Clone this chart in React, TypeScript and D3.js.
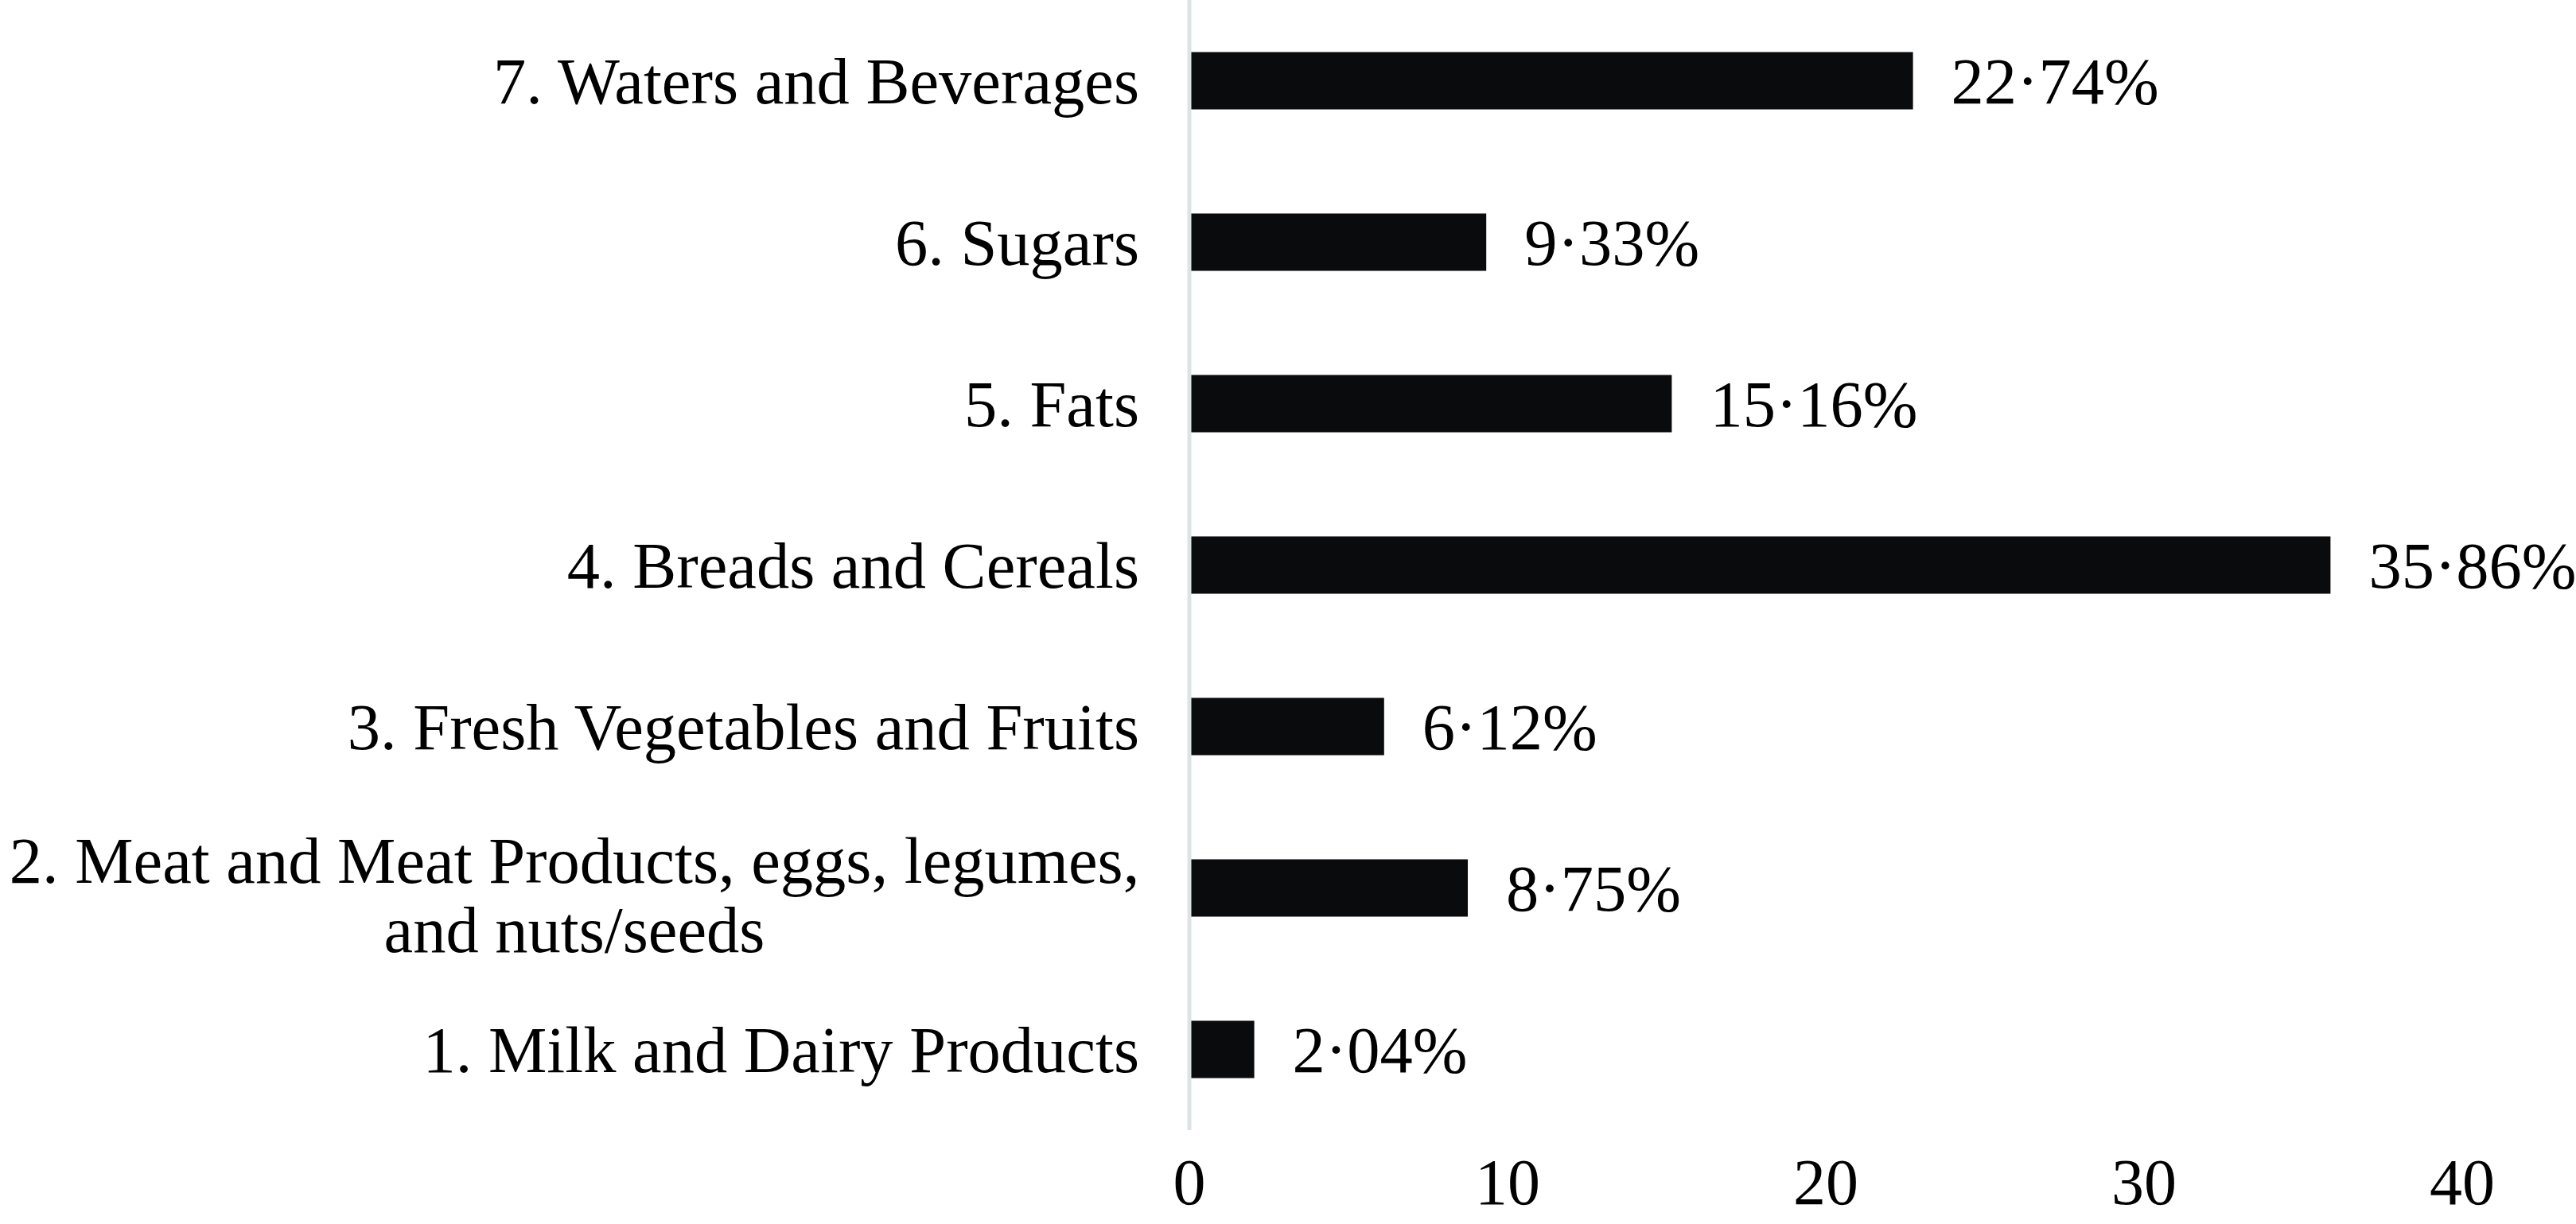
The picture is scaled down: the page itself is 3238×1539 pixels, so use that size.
import React from "react";
import * as d3 from "d3";

const categories: string[][] = [
  ["7. Waters and Beverages"],
  ["6. Sugars"],
  ["5. Fats"],
  ["4. Breads and Cereals"],
  ["3. Fresh Vegetables and Fruits"],
  ["2. Meat and Meat Products, eggs, legumes,", "and nuts/seeds"],
  ["1. Milk and Dairy Products"],
];
const values: number[] = [22.74, 9.33, 15.16, 35.86, 6.12, 8.75, 2.04];
const valueLabels: string[] = ["22·74%", "9·33%", "15·16%", "35·86%", "6·12%", "8·75%", "2·04%"];
const xTicks: number[] = [0, 10, 20, 30, 40];

const W = 3238;
const H = 1539;
const FONT = "'Liberation Serif', 'Times New Roman', serif";
const FS = 82.5;
const TFS = 82;

export default function App() {
  const x = d3.scaleLinear().domain([0, 40]).range([1495, 3095]);
  const y = d3
    .scaleBand<number>()
    .domain(d3.range(categories.length))
    .range([0, 1421])
    .paddingInner(0.645)
    .paddingOuter(0.3225);
  const bw = y.bandwidth();
  return (
    <svg
      width={W}
      height={H}
      style={{ position: "absolute", left: 0, top: 0, background: "#fff" }}
      fontFamily={FONT}
    >
      <rect x={0} y={0} width={W} height={H} fill="#fff" />
      {values.map((v, i) => (
        <rect
          key={"b" + i}
          x={x(0)}
          y={y(i)!}
          width={x(v) - x(0)}
          height={bw}
          fill="#0a0b0d"
        />
      ))}
      <line x1={x(0)} x2={x(0)} y1={0} y2={1421} stroke="#dde3e4" strokeWidth={5} />
      {values.map((v, i) => (
        <text
          key={"v" + i}
          x={x(v) + 48}
          y={y(i)! + bw / 2}
          dy="0.35em"
          fontSize={FS}
          fill="#000"
        >
          {valueLabels[i]}
        </text>
      ))}
      {categories.map((lines, i) => {
        const cy = y(i)! + bw / 2;
        const lh = 87;
        const multi = lines.length > 1;
        const start = cy - ((lines.length - 1) * lh) / 2 + (multi ? 8 : 0);
        return (
          <text key={"c" + i} fontSize={FS} fill="#000">
            {lines.map((l, j) => (
              <tspan
                key={j}
                x={multi ? 722 : 1432}
                y={start + j * lh}
                dy="0.35em"
                textAnchor={multi ? "middle" : "end"}
              >
                {l}
              </tspan>
            ))}
          </text>
        );
      })}
      {xTicks.map((t) => (
        <text
          key={"t" + t}
          x={x(t)}
          y={1485}
          dy="0.35em"
          fontSize={TFS}
          textAnchor="middle"
          fill="#000"
        >
          {t}
        </text>
      ))}
    </svg>
  );
}
